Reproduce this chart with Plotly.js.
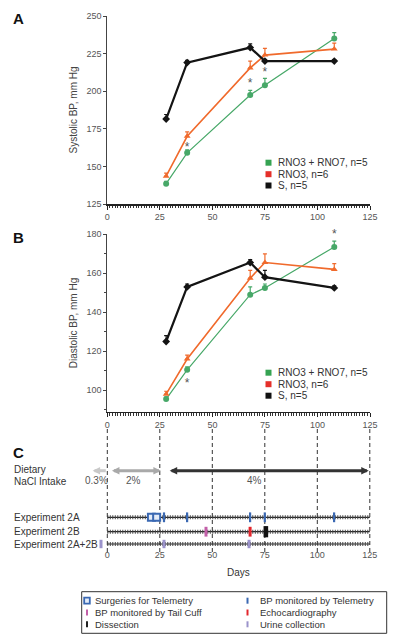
<!DOCTYPE html>
<html><head><meta charset="utf-8">
<script src="https://cdn.plot.ly/plotly-3.0.1.min.js"></script>
<style>html,body{margin:0;padding:0;background:#fff}#chart{width:400px;height:644px}</style>
</head><body><div id="chart"></div>
<script>
// ---------- data ----------
const days = [28, 38, 68, 75, 108];
const seriesNames = ['RNO3 + RNO7, n=5', 'RNO3, n=6', 'S, n=5'];
const systolicCombo = [138.5, 159, 197.5, 204, 235];
const systolicRNO3  = [143.5, 170, 215.5, 224, 228];
const systolicS     = [181.5, 219, 229, 220, 220];
const systolicErrCombo = [1.5, 2, 3, 4.5, 4];
const systolicErrRNO3  = [2, 3, 4.5, 4.5, 4];
const systolicErrS     = [3, 1.5, 2.5, 1, 1];
const diastolicCombo = [95.5, 110.5, 149, 152.5, 173.5];
const diastolicRNO3  = [98, 116, 157.5, 165.5, 162];
const diastolicS     = [125, 153, 165.5, 158, 152.5];
const diastolicErrCombo = [1, 1.5, 4, 2, 3];
const diastolicErrRNO3  = [1.5, 2, 4, 4.5, 3];
const diastolicErrS     = [3, 1.5, 1.5, 3.5, 1];
const systolicStarDays = [38, 68, 75];
const systolicStarBP   = [162, 204.5, 212];
const diastolicStarDays = [38, 108];
const diastolicStarBP   = [103, 179.5];
const dietLabels = ['0.3%', '2%', '4%'];
const dietStart = [0, 1.5, 29];
const dietEnd   = [-7, 25.5, 124.5];
const dietLabelDay = [-5, 12.5, 70];
const experimentRows = ['Experiment 2A', 'Experiment 2B', 'Experiment 2A+2B'];
const surgeryDays = [21, 23.5];
const telemetryDays = [27, 38, 68, 75, 108];
const tailCuffDays = [47];
const echoDays = [68];
const dissectionDays = [75, 76];
const urineDays = [-3, 27, 67.5];
const xTicks = [0, 25, 50, 75, 100, 125];
const systolicTicks = [125, 150, 175, 200, 225, 250];
const diastolicTicks = [100, 120, 140, 160, 180];
const eventLegend = ['Surgeries for Telemetry', 'BP monitored by Telemetry', 'BP monitored by Tail Cuff', 'Echocardiography', 'Dissection', 'Urine collection'];

// ---------- styles ----------
const W = 400, H = 644;
const px = x => x / W;
const py = y => 1 - y / H;
const FONT = 'Liberation Sans, Arial, sans-serif';
const C_GREEN = '#47a868', C_ORANGE = '#f06a2c', C_BLACK = '#141414';
const C_LEG_GREEN = '#35a352', C_LEG_RED = '#e5302a';
const C_BLUE = '#3a68b2', C_PINK = '#c25fa8', C_RED = '#e3262c', C_LAV = '#9b93cb';
const TICKC = '#555';
const rowLevel = {'Experiment 2A': 30.7, 'Experiment 2B': 16.3, 'Experiment 2A+2B': 4};
const dietLevel = 77.3;

function bpTrace(y, err, color, symbol, lw, xa, ya) {
  return {x: days, y: y, xaxis: xa, yaxis: ya, type: 'scatter', mode: 'lines+markers',
    line: {color: color, width: lw}, marker: {symbol: symbol, size: 6, color: color},
    error_y: {type: 'data', symmetric: false, array: err, arrayminus: err.map(() => 0),
      color: color, thickness: 1.2, width: 2},
    cliponaxis: false, showlegend: false, hoverinfo: 'skip'};
}
function starTrace(x, y, xa, ya) {
  return {x: x, y: y, xaxis: xa, yaxis: ya, type: 'scatter', mode: 'text', text: x.map(() => '*'),
    textfont: {size: 12, color: '#555', family: FONT}, cliponaxis: false, showlegend: false, hoverinfo: 'skip'};
}
function eventTrace(xs, row, symbol, size, fill, lineColor, lineW) {
  return {x: xs, y: xs.map(() => rowLevel[row]), xaxis: 'x3', yaxis: 'y3', type: 'scatter', mode: 'markers',
    marker: {symbol: symbol, size: size, color: fill, line: {color: lineColor, width: lineW}},
    cliponaxis: false, showlegend: false, hoverinfo: 'skip'};
}

const traces = [];
traces.push(bpTrace(systolicCombo, systolicErrCombo, C_GREEN, 'circle', 1.2, 'x', 'y'));
traces.push(bpTrace(systolicRNO3, systolicErrRNO3, C_ORANGE, 'triangle-up', 1.6, 'x', 'y'));
traces.push(bpTrace(systolicS, systolicErrS, C_BLACK, 'diamond', 2.2, 'x', 'y'));
traces.push(starTrace(systolicStarDays, systolicStarBP, 'x', 'y'));
traces.push(bpTrace(diastolicCombo, diastolicErrCombo, C_GREEN, 'circle', 1.2, 'x2', 'y2'));
traces.push(bpTrace(diastolicRNO3, diastolicErrRNO3, C_ORANGE, 'triangle-up', 1.6, 'x2', 'y2'));
traces.push(bpTrace(diastolicS, diastolicErrS, C_BLACK, 'diamond', 2.2, 'x2', 'y2'));
traces.push(starTrace(diastolicStarDays, diastolicStarBP, 'x2', 'y2'));

// experiment rows (ruler-like lines)
experimentRows.forEach(r => {
  const xs = [xTicks[0], xTicks[xTicks.length - 1]];
  traces.push({x: xs, y: [rowLevel[r], rowLevel[r]], xaxis: 'x3', yaxis: 'y3', type: 'scatter', mode: 'lines',
    line: {color: '#222', width: 1.2}, showlegend: false, hoverinfo: 'skip'});
  traces.push({x: xs, y: [rowLevel[r], rowLevel[r]], xaxis: 'x3', yaxis: 'y3', type: 'scatter', mode: 'lines',
    line: {color: '#444', width: 4, dash: '1px,1.5px'}, showlegend: false, hoverinfo: 'skip'});
});
traces.push(eventTrace(surgeryDays, 'Experiment 2A', 'square', 7, '#e4ecf8', C_BLUE, 2));
traces.push(eventTrace(telemetryDays, 'Experiment 2A', 'line-ns', 7, C_BLUE, C_BLUE, 2.2));
traces.push(eventTrace(tailCuffDays, 'Experiment 2B', 'line-ns', 7, C_PINK, C_PINK, 3));
traces.push(eventTrace(echoDays, 'Experiment 2B', 'line-ns', 7, C_RED, C_RED, 3));
traces.push(eventTrace(dissectionDays, 'Experiment 2B', 'line-ns', 8, '#111', '#111', 2.5));
traces.push(eventTrace(urineDays, 'Experiment 2A+2B', 'line-ns', 6, C_LAV, C_LAV, 3));

const baseX = {range: [0, 125], tickvals: xTicks, showgrid: false, zeroline: false, showline: true,
  linecolor: '#222', linewidth: 1.5, ticks: 'outside', ticklen: 4, tickcolor: '#222',
  tickfont: {size: 9, color: TICKC, family: FONT},
  minor: {dtick: 1.25, tick0: 0, ticks: 'outside', ticklen: 2.5, tickcolor: '#333', tickwidth: 1}};
const baseY = {showgrid: false, zeroline: false, showline: true, linecolor: '#444', linewidth: 1,
  ticks: 'outside', ticklen: 3, tickcolor: '#444', tickfont: {size: 9, color: TICKC, family: FONT}};

const annotations = [];
const shapes = [];
function addAnn(o) { annotations.push(Object.assign({showarrow: false, font: {family: FONT, size: 10, color: '#333'}}, o)); }

// panel letters
[['A', 19], ['B', 238], ['C', 452]].forEach(([t, y]) =>
  addAnn({text: '<b>' + t + '</b>', xref: 'paper', yref: 'paper', x: px(11), y: py(y), xanchor: 'left', yanchor: 'middle',
    font: {family: FONT, size: 15, color: '#111'}}));

// legends in A and B
const legColors = [C_LEG_GREEN, C_LEG_RED, '#111'];
[[162.7, 174.2, 185.5], [372.7, 384.2, 395.7]].forEach(rows => {
  rows.forEach((y, i) => {
    shapes.push({type: 'rect', xref: 'paper', yref: 'paper', x0: px(265.5), x1: px(271.5), y0: py(y + 3), y1: py(y - 3),
      fillcolor: legColors[i], line: {width: 0}});
    addAnn({text: seriesNames[i], xref: 'paper', yref: 'paper', x: px(276), y: py(y), xanchor: 'left', yanchor: 'middle',
      font: {family: FONT, size: 10, color: '#333'}});
  });
});

// panel C: dietary
addAnn({text: 'Dietary', xref: 'paper', yref: 'y3', x: px(11.5), y: 78, xanchor: 'left', yanchor: 'middle'});
addAnn({text: 'NaCl Intake', xref: 'paper', yref: 'y3', x: px(11.5), y: 66, xanchor: 'left', yanchor: 'middle'});
const dietColors = ['#c9c9c9', '#a9a9a9', '#333'];
dietLabels.forEach((lab, i) => {
  annotations.push({x: dietEnd[i], y: dietLevel, ax: dietStart[i], ay: dietLevel, xref: 'x3', yref: 'y3', axref: 'x3', ayref: 'y3',
    text: '', showarrow: true, arrowhead: 2, arrowsize: 0.5, arrowwidth: 3, arrowcolor: dietColors[i],
    arrowside: i === 0 ? 'end' : 'end+start', startarrowhead: 2, startarrowsize: 0.5, standoff: 0, startstandoff: 0});
  addAnn({text: lab, xref: 'x3', yref: 'y3', x: dietLabelDay[i], y: 67, xanchor: 'center', yanchor: 'middle',
    font: {family: FONT, size: 10, color: '#555'}});
});
experimentRows.forEach(r => addAnn({text: r, xref: 'paper', yref: 'y3', x: px(11.5), y: rowLevel[r], xanchor: 'left', yanchor: 'middle'}));
addAnn({text: 'Days', xref: 'x3', yref: 'paper', x: 62.5, y: py(572), xanchor: 'center', yanchor: 'middle'});

// vertical dashed lines
xTicks.forEach(d => shapes.push({type: 'line', xref: 'x3', yref: 'paper', x0: d, x1: d, y0: py(552), y1: py(427),
  line: {color: '#333', width: 1, dash: '4px,3px'}, layer: 'below'}));

// event legend box
shapes.push({type: 'rect', xref: 'paper', yref: 'paper', x0: px(81.7), x1: px(386.7), y0: py(633.3), y1: py(591.7),
  line: {color: '#333', width: 1}, fillcolor: 'rgba(0,0,0,0)'});
const legRows = [600.7, 612.5, 624.3];
const legItems = [
  {col: 0, row: 0, kind: 'box', color: C_BLUE},
  {col: 1, row: 0, kind: 'tick', color: C_BLUE},
  {col: 0, row: 1, kind: 'tick', color: C_PINK},
  {col: 1, row: 1, kind: 'tick', color: C_RED},
  {col: 0, row: 2, kind: 'tick', color: '#222'},
  {col: 1, row: 2, kind: 'tick', color: C_LAV}];
const colMarkX = [87, 247.5], colTextX = [92.5, 258];
legItems.forEach((it, i) => {
  const y = legRows[it.row], mx = colMarkX[it.col];
  if (it.kind === 'box') {
    shapes.push({type: 'rect', xref: 'paper', yref: 'paper', x0: px(mx - 2.8), x1: px(mx + 2.8), y0: py(y + 3), y1: py(y - 3),
      fillcolor: '#e4ecf8', line: {color: it.color, width: 1.8}});
  } else {
    shapes.push({type: 'rect', xref: 'paper', yref: 'paper', x0: px(mx - 1), x1: px(mx + 1), y0: py(y + 3), y1: py(y - 3),
      fillcolor: it.color, line: {width: 0}});
  }
  addAnn({text: eventLegend[i], xref: 'paper', yref: 'paper', x: px(colTextX[it.col]), y: py(y), xanchor: 'left', yanchor: 'middle',
    font: {family: FONT, size: 9.5, color: '#333'}});
});

const layout = {
  width: W, height: H, margin: {l: 0, r: 0, t: 0, b: 0}, paper_bgcolor: '#fff', plot_bgcolor: 'rgba(0,0,0,0)',
  font: {family: FONT}, showlegend: false,
  xaxis: Object.assign({}, baseX, {domain: [px(107.3), px(370)], anchor: 'y'}),
  yaxis: Object.assign({}, baseY, {domain: [py(204), py(16)], range: [125, 250], tickvals: systolicTicks, anchor: 'x',
    title: {text: 'Systolic BP, mm Hg', font: {size: 10, color: '#444', family: FONT}, standoff: 6}}),
  xaxis2: Object.assign({}, baseX, {domain: [px(107.3), px(370)], anchor: 'y2'}),
  yaxis2: Object.assign({}, baseY, {domain: [py(411.7), py(234.3)], range: [89, 180], tickvals: diastolicTicks, anchor: 'x2',
    minor: {dtick: 10, tick0: 0, ticks: 'outside', ticklen: 2, tickcolor: '#444'},
    title: {text: 'Diastolic BP, mm Hg', font: {size: 10, color: '#444', family: FONT}, standoff: 6}}),
  xaxis3: {domain: [px(86.3), px(374)], range: [-10, 127], anchor: 'y3', tickvals: xTicks, showgrid: false, zeroline: false,
    showline: false, ticks: '', tickfont: {size: 9, color: TICKC, family: FONT}},
  yaxis3: {domain: [py(548), py(427)], range: [0, 121], anchor: 'x3', visible: false, showgrid: false, zeroline: false},
  annotations: annotations, shapes: shapes
};
Plotly.newPlot('chart', traces, layout, {displayModeBar: false, staticPlot: true});
</script></body></html>
